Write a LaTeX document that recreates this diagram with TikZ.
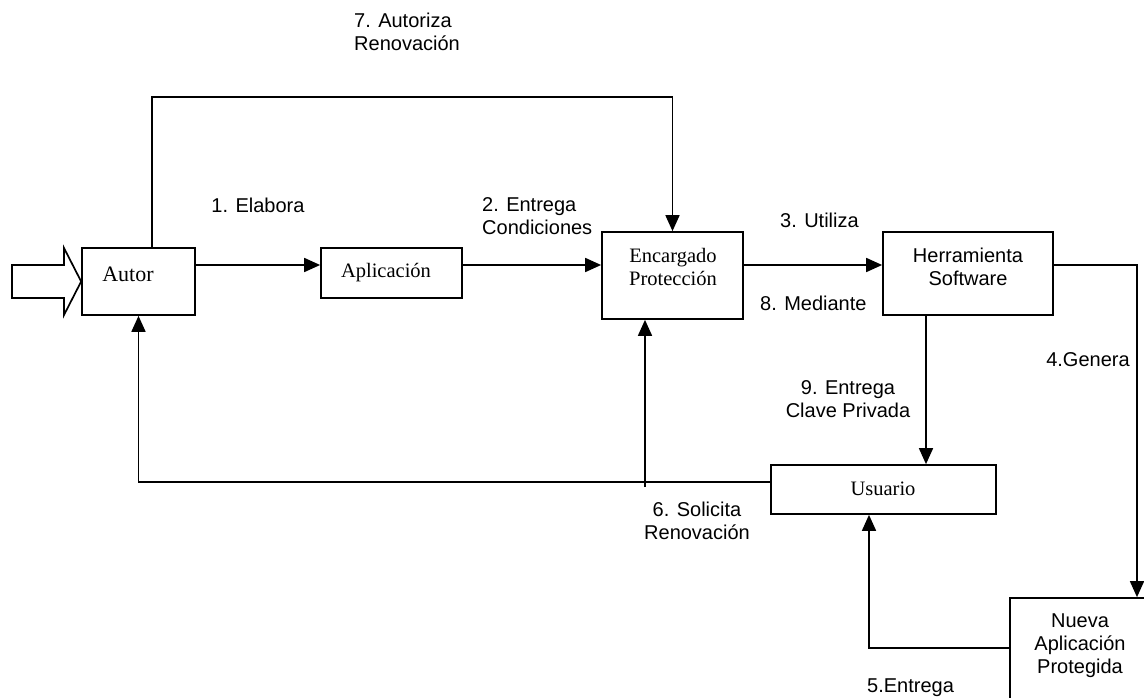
\documentclass[tikz,border=0pt]{standalone}
\usepackage{fontspec}
\setmainfont{Liberation Serif}
\newfontfamily\arialf{Liberation Sans}
\usetikzlibrary{arrows.meta}
\begin{document}
\begin{tikzpicture}[x=1pt,y=-1pt,
  box/.style={draw,line width=1.7pt,inner sep=0pt},
  serif/.style={font=\fontsize{20.5}{23}\selectfont,inner sep=0pt,align=center},
  sans/.style={font=\arialf\fontsize{20}{23}\selectfont,inner sep=0pt},
  lbl/.style={sans,align=left},
  conn/.style={line width=1.7pt},
  arr/.style={conn,-{Triangle[length=16pt,width=14pt]}}]
\clip (0,0) rectangle (1144,698);
\fill[white] (0,0) rectangle (1144,698);

% boxes
\node[box,minimum width=113pt,minimum height=67pt] (autor) at (138.5,281.5) {};
\node[box,minimum width=141pt,minimum height=50pt] (apl) at (391.5,273) {};
\node[box,minimum width=141pt,minimum height=87pt] (enc) at (672.5,275.5) {};
\node[box,minimum width=170pt,minimum height=83pt] (herr) at (968,273.5) {};
\node[box,minimum width=225pt,minimum height=49pt] (usu) at (883.5,489.5) {};
\node[box,minimum width=140pt,minimum height=112pt] (nueva) at (1080,654) {};

% box texts
\node[serif,font=\fontsize{22}{24}\selectfont] (autorT) at (128,274) {Autor};
\node[serif] (aplT) at (386,273) {Aplicación};
\node[serif] (encT) at (673,267) {Encargado\\Protección};
\node[sans,align=center] (herrT) at (968,267) {Herramienta\\Software};
\node[serif] (usuT) at (883,489) {Usuario};
\node[sans,align=center] (nuevaT) at (1080,646) {Nueva\\Aplicación\\Protegida};

% input arrow
\draw[conn,fill=white,line join=miter] (12,265) -- (64,265) -- (64,248) -- (autor.west) -- (64,315) -- (64,298) -- (12,298) -- cycle;

% connectors
\draw[arr] ([xshift=13.5pt]autor.north) -- ++(0,-150) -| (enc.north);
\draw[arr] ([yshift=16.5pt]autor.east) -- (apl.west |- 0,265);
\draw[arr] ([yshift=8pt]apl.east) -- (enc.west |- 0,265);
\draw[arr] ([yshift=10.5pt]enc.east) -- (herr.west |- 0,265);
\draw[arr] ([yshift=8.5pt]herr.east) -| ([xshift=57pt]nueva.north);
\draw[arr] ([xshift=-42pt]herr.south) -- (usu.north -| 926,0);
\draw[arr] ([yshift=7.5pt]usu.west) -| (autor.south);
\draw[arr] (645,487) -- (enc.south -| 645,0);
\draw[arr] ([yshift=6pt]nueva.west) -| (usu.south -| 869,0);

% connector labels
\node[lbl,anchor=west] (l7) at (354,31.5) {7. Autoriza\\Renovación};
\node[sans] (l1) at (258,205) {1. Elabora};
\node[lbl,anchor=west] (l2) at (482,216) {2. Entrega\\Condiciones};
\node[sans,anchor=west] (l3) at (780,220) {3. Utiliza};
\node[sans,anchor=west] (l8) at (760,303) {8. Mediante};
\node[sans] (l4) at (1088,360) {4.Genera};
\node[sans,align=center] (l9) at (848,399) {9. Entrega\\Clave Privada};
\node[sans,align=center] (l6) at (697,521) {6. Solicita\\Renovación};
\node[sans,anchor=west] (l5) at (867,688) {5.Entrega};
\end{tikzpicture}
\end{document}
